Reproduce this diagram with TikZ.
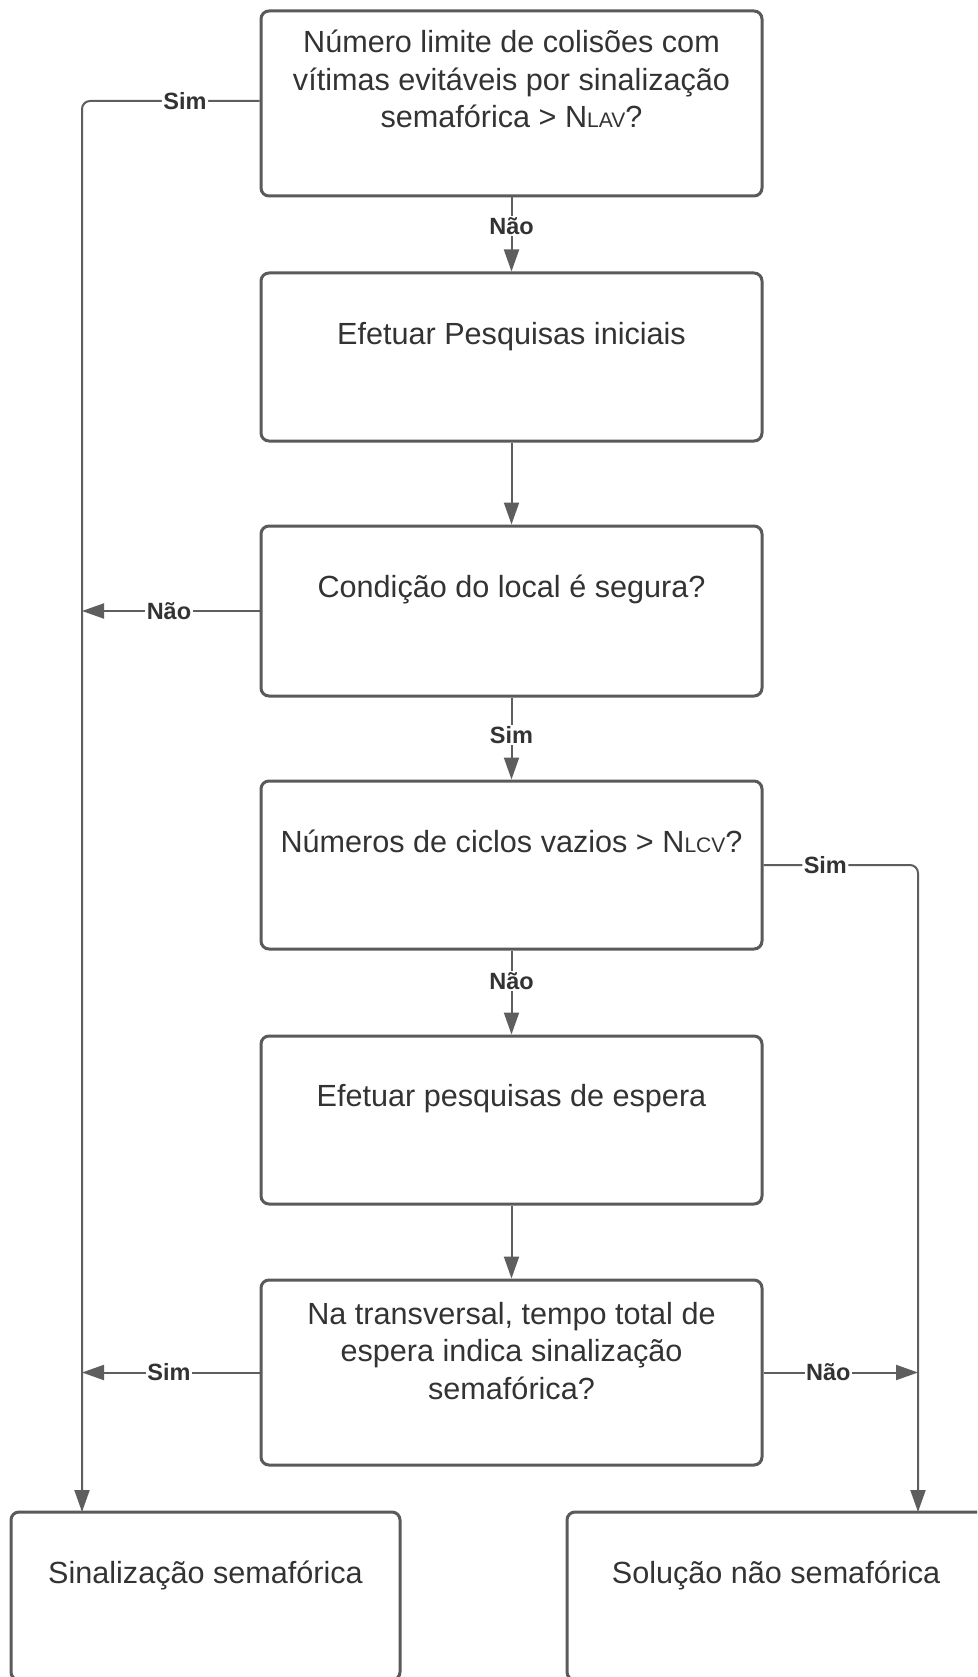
\documentclass[tikz,border=0pt]{standalone}
\usepackage{fontspec}
\setmainfont{Liberation Sans}
\usetikzlibrary{arrows.meta,calc}
\definecolor{bordc}{HTML}{5A5A5A}
\definecolor{linec}{HTML}{5E5E5E}
\definecolor{txtc}{HTML}{333333}
\newcommand{\sub}[1]{{\fontsize{21}{21}\selectfont #1}}
\begin{document}
\begin{tikzpicture}[x=1pt,y=-1pt,
  box/.style={draw=bordc, line width=3pt, rounded corners=8pt, inner sep=0pt, fill=white},
  txt/.style={text=txtc, inner sep=0pt, anchor=base, font=\fontsize{30.6}{37.5}\selectfont},
  conn/.style={draw=linec, line width=2pt},
  arr/.style={conn, -{Triangle[length=22pt, width=15pt]}},
  lbl/.style={fill=white, text=txtc, inner sep=1.5pt, font=\bfseries\fontsize{23.5}{26}\selectfont}]
\useasboundingbox (0,0) rectangle (977,1677);
\clip (0,0) rectangle (977,1677);
\fill[white] (0,0) rectangle (977,1677);
% boxes
\node[box, minimum width=501pt, minimum height=185pt] (b1) at (511.5,103.5) {};
\node[box, minimum width=501pt, minimum height=168pt] (b2) at (511.5,357) {};
\node[box, minimum width=501pt, minimum height=170pt] (b3) at (511.5,611) {};
\node[box, minimum width=501pt, minimum height=168pt] (b4) at (511.5,865) {};
\node[box, minimum width=501pt, minimum height=168pt] (b5) at (511.5,1120) {};
\node[box, minimum width=501pt, minimum height=185pt] (b6) at (511.5,1372.5) {};
\node[box, minimum width=389pt, minimum height=168pt] (b7) at (205.5,1596) {};
\node[box, minimum width=440pt, minimum height=168pt] (b8) at (787,1596) {};
% texts
\node[txt] (t1) at (511.5,53) {\begin{tabular}[t]{@{}c@{}}Número limite de colisões com\\vítimas evitáveis por sinalização\\semafórica > N\sub{LAV}?\end{tabular}};
\node[txt] (t2) at (511.5,344) {Efetuar Pesquisas iniciais};
\node[txt] (t3) at (511.5,597) {Condição do local é segura?};
\node[txt] (t4) at (511.5,852) {Números de ciclos vazios > N\sub{LCV}?};
\node[txt] (t5) at (511.5,1106) {Efetuar pesquisas de espera};
\node[txt] (t6) at (511.5,1324) {\begin{tabular}[t]{@{}c@{}}Na transversal, tempo total de\\espera indica sinalização\\semafórica?\end{tabular}};
\node[txt] (t7) at (205.5,1583) {Sinalização semafórica};
\node[txt] (t8) at (776,1583) {Solução não semafórica};
% connector end points
\coordinate (b7in) at (82,1512);
\coordinate (b8in) at (918,1512);
% vertical flow
\draw[arr] (b1.south) -- node[lbl, pos=0.39] {Não} (b2.north);
\draw[arr] (b2.south) -- (b3.north);
\draw[arr] (b3.south) -- node[lbl, pos=0.46] {Sim} (b4.north);
\draw[arr] (b4.south) -- node[lbl, pos=0.36] {Não} (b5.north);
\draw[arr] (b5.south) -- (b6.north);
% left side
\draw[arr, rounded corners=8pt] ([yshift=2.5pt]b1.west) -| node[lbl, pos=0.21] {Sim} (b7in);
\draw[arr] (b3.west) -- node[lbl, pos=0.51] {Não} (b3.west -| b7in);
\draw[arr] (b6.west) -- node[lbl, pos=0.51] {Sim} (b6.west -| b7in);
% right side
\draw[arr, rounded corners=8pt] (b4.east) -| node[lbl, pos=0.2] {Sim} (b8in);
\draw[arr] (b6.east) -- node[lbl, pos=0.42] {Não} (b6.east -| b8in);
\end{tikzpicture}
\end{document}
